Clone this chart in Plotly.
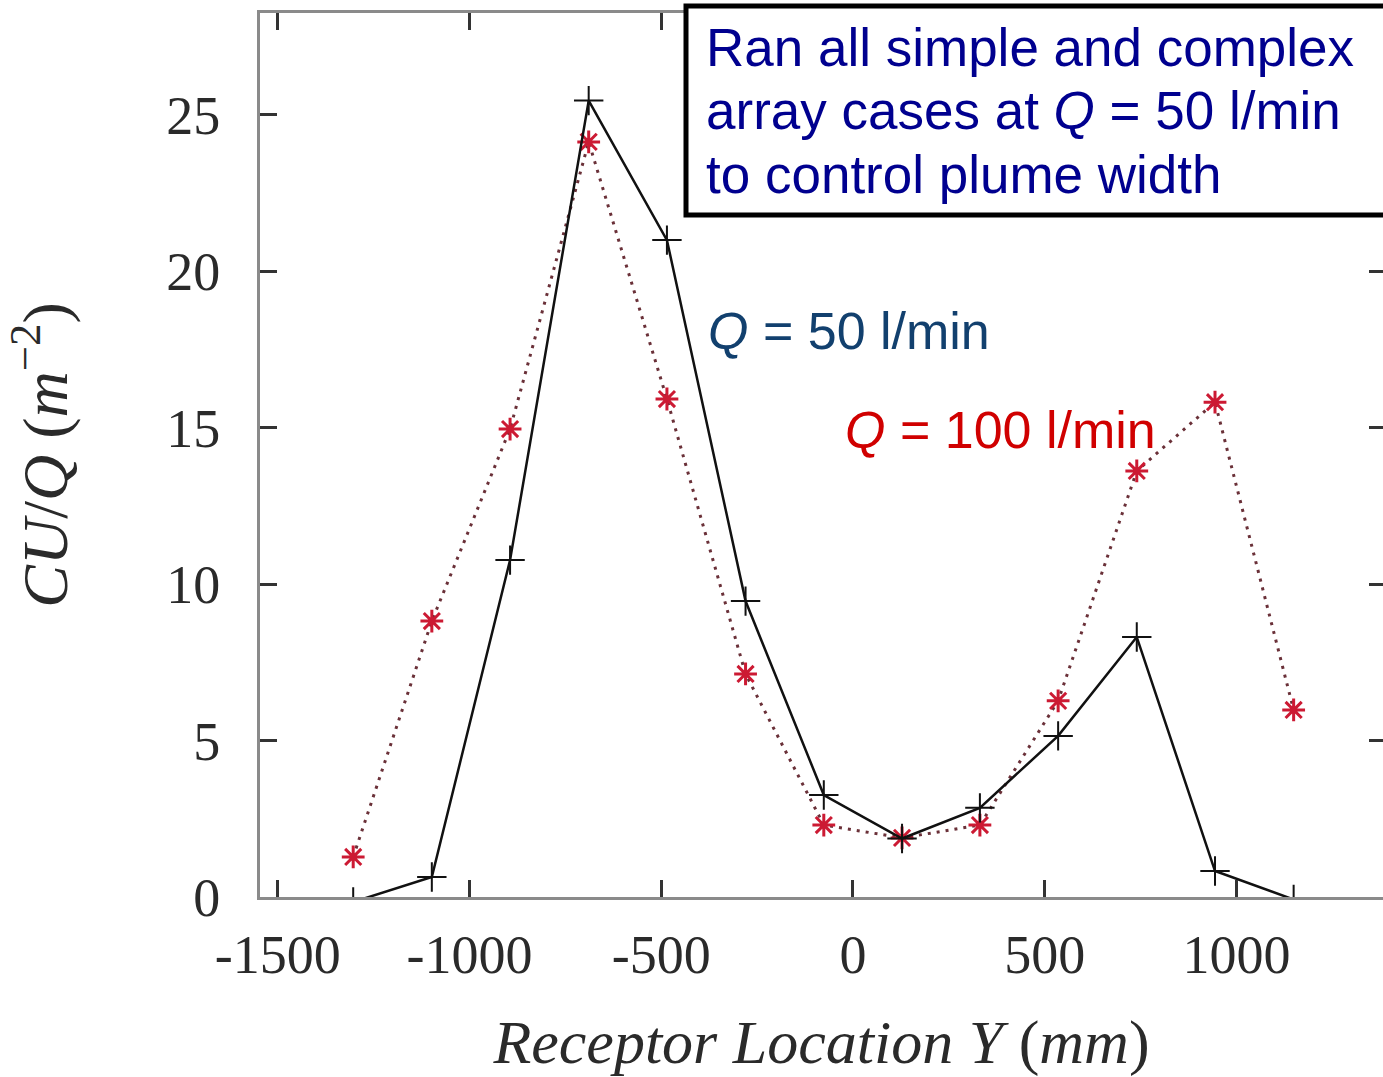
import plotly.graph_objects as go

# ---- data ----
receptor_y_mm = [-1303, -1098, -894, -689, -485, -280, -76, 128, 331, 535, 740, 944, 1149]
cuq_50 = [-0.16, 0.64, 10.77, 25.46, 21.0, 9.46, 3.26, 1.87, 2.85, 5.15, 8.31, 0.83, -0.08]
cuq_100 = [1.28, 8.82, 14.96, 24.14, 15.92, 7.13, 2.30, 1.89, 2.30, 6.27, 13.62, 15.82, 5.98]

x_tick_vals = [-1500, -1000, -500, 0, 500, 1000]
x_tick_text = ["-1500", "-1000", "-500", "0", "500", "1000"]
y_tick_vals = [0, 5, 10, 15, 20, 25]
y_tick_text = ["0", "5", "10", "15", "20", "25"]

box_lines = [
    "Ran all simple and complex",
    "array cases at <i>Q</i> = 50 l/min",
    "to control plume width",
]
label_50 = "<i>Q</i> = 50 l/min"
label_100 = "<i>Q</i> = 100 l/min"

W, H = 1383, 1077
L, R, T, B = 260, 0, 13, 180
pw, ph = W - L - R, H - T - B


def px_x(p):
    return (p - L) / pw


def px_y(p):
    return (H - B - p) / ph


fig = go.Figure()

fig.add_trace(go.Scatter(
    x=receptor_y_mm, y=cuq_100, mode="lines+markers",
    line=dict(color="#6a3038", width=3, dash="3px,6px"),
    marker=dict(symbol="asterisk-open", size=19, color="#cc1a33",
                line=dict(color="#cc1a33", width=3)),
    showlegend=False,
))
fig.add_trace(go.Scatter(
    x=receptor_y_mm, y=cuq_50, mode="lines+markers",
    line=dict(color="#111111", width=2.5),
    marker=dict(symbol="cross-thin-open", size=21, color="#111111",
                line=dict(color="#111111", width=2)),
    showlegend=False,
))
# invisible trace to carry the right-hand tick axis
fig.add_trace(go.Scatter(x=[0], y=[0], yaxis="y2", mode="markers",
                         marker=dict(opacity=0), showlegend=False,
                         hoverinfo="skip"))

tick_font = dict(family="Liberation Serif", size=54, color="#2a2a2a")

fig.update_layout(
    width=W, height=H,
    margin=dict(l=L, r=R, t=T, b=B),
    paper_bgcolor="white", plot_bgcolor="white",
    xaxis=dict(
        range=[-1546, 1382], showgrid=False, zeroline=False,
        showline=True, linecolor="#8a8a8a", linewidth=3, mirror="ticks",
        ticks="inside", ticklen=17, tickwidth=3, tickcolor="#333333",
        tickvals=x_tick_vals, ticktext=x_tick_text, tickfont=tick_font,
        ticklabelstandoff=8,
        title=dict(text="<i>Receptor Location Y</i> (<i>mm</i>)",
                   font=dict(family="Liberation Serif", size=62, color="#2a2a2a"),
                   standoff=40),
    ),
    yaxis=dict(
        range=[0, 28.26], showgrid=False, zeroline=False,
        showline=True, linecolor="#8a8a8a", linewidth=3, mirror=False,
        ticks="inside", ticklen=17, tickwidth=3, tickcolor="#333333",
        tickvals=y_tick_vals, ticktext=y_tick_text, tickfont=tick_font,
        ticklabelstandoff=26,
        title=dict(text="<i>CU</i>/<i>Q</i> (<i>m</i><sup>−2</sup>)",
                   font=dict(family="Liberation Serif", size=64, color="#2a2a2a"),
                   standoff=86),
    ),
    yaxis2=dict(
        overlaying="y", side="right", matches="y", range=[0, 28.26],
        showgrid=False, zeroline=False, showline=False,
        ticks="inside", ticklen=14, tickwidth=3, tickcolor="#333333",
        tickvals=y_tick_vals, showticklabels=False,
    ),
)

# text box: white fill, then a border open on the right (cut off by the page edge)
bx0, bx1 = px_x(686), 1.3
by0, by1 = px_y(215), px_y(6)
fig.add_shape(type="rect", xref="paper", yref="paper",
              x0=bx0, x1=bx1, y0=by0, y1=by1,
              line=dict(width=0), fillcolor="white", layer="above")
fig.add_shape(type="path", xref="paper", yref="paper",
              path=f"M {bx1},{by1} L {bx0},{by1} L {bx0},{by0} L {bx1},{by0}",
              line=dict(color="black", width=5), layer="above")

box_mid_y = [48, 110, 174]
for txt, yy in zip(box_lines, box_mid_y):
    fig.add_annotation(text=txt, xref="paper", yref="paper",
                       x=px_x(704), y=px_y(yy), xanchor="left", yanchor="middle",
                       showarrow=False,
                       font=dict(family="Liberation Sans", size=53, color="#00008f"))

fig.add_annotation(text=label_50, xref="paper", yref="paper",
                   x=px_x(706), y=px_y(331), xanchor="left", yanchor="middle",
                   showarrow=False,
                   font=dict(family="Liberation Sans", size=52, color="#12406e"))
fig.add_annotation(text=label_100, xref="paper", yref="paper",
                   x=px_x(843), y=px_y(430), xanchor="left", yanchor="middle",
                   showarrow=False,
                   font=dict(family="Liberation Sans", size=52, color="#d00000"))

fig.write_html("out.html")
